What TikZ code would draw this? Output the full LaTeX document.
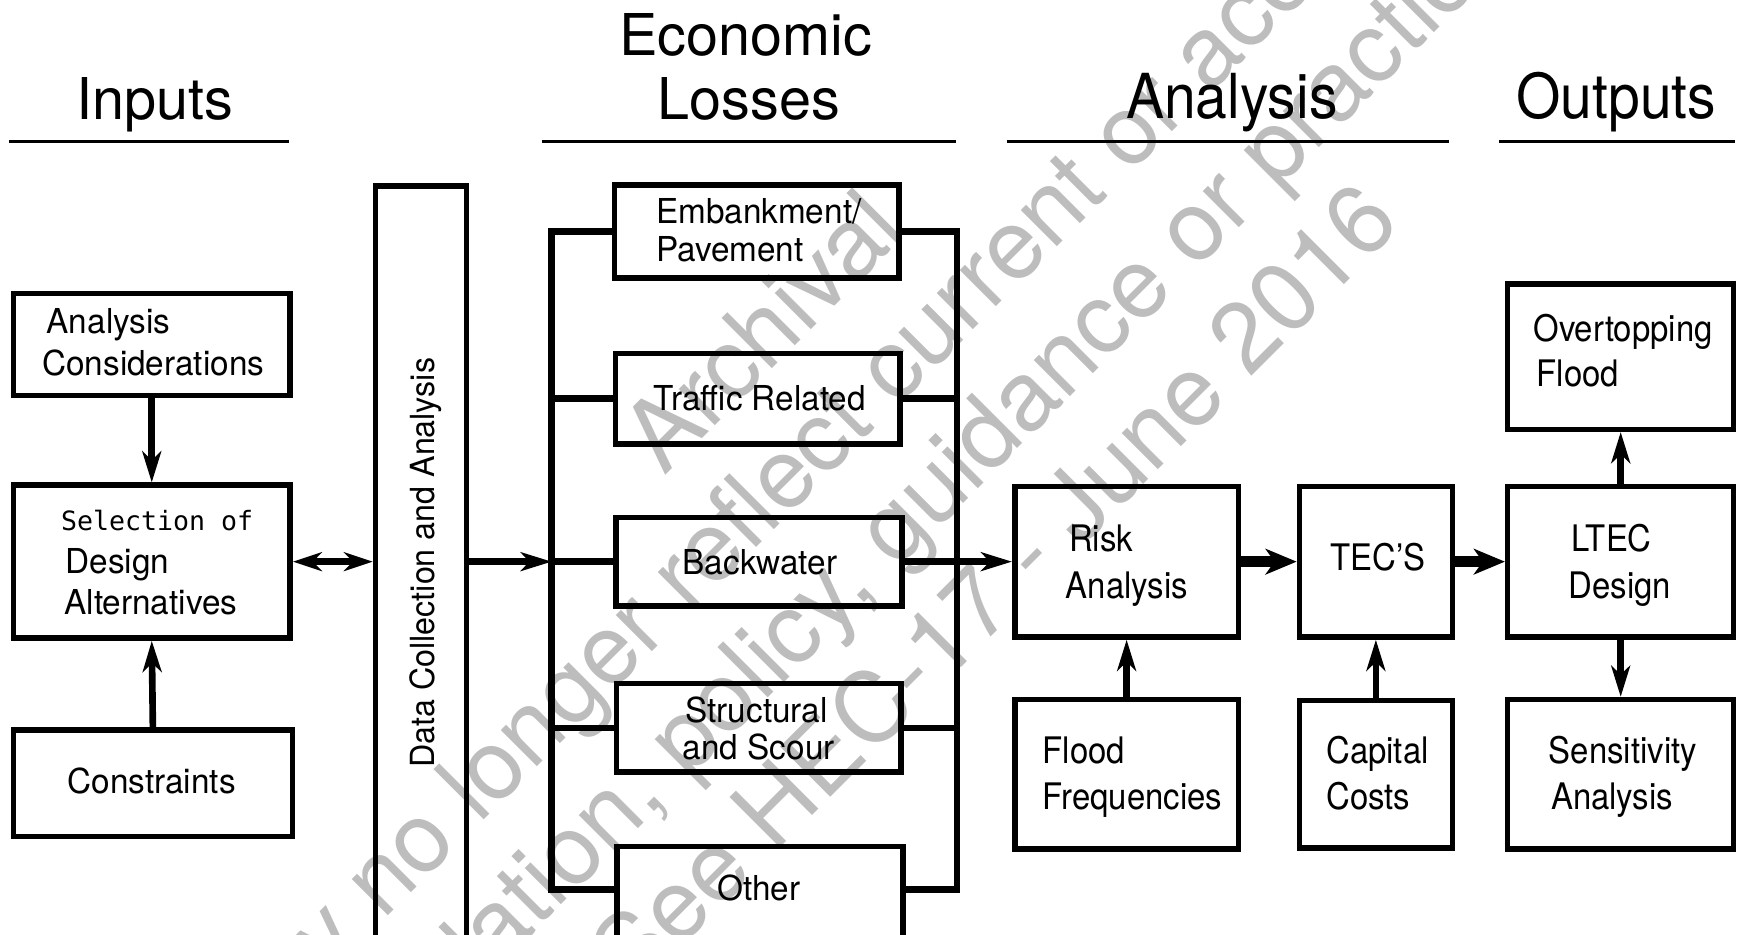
\documentclass[tikz,border=0pt]{standalone}
\usepackage{fontspec}
\setmainfont{TeX Gyre Heros}
\newfontfamily\fHead{TeX Gyre Heros}
\newfontfamily\fHeadC[FakeStretch=0.92]{TeX Gyre Heros}
\newfontfamily\fBoxL[FakeStretch=0.97]{TeX Gyre Heros}
\newfontfamily\fBoxR[FakeStretch=0.9]{TeX Gyre Heros}
\newfontfamily\fMono{DejaVu Sans Mono}
\newfontfamily\fMark{TeX Gyre Heros}
\usetikzlibrary{arrows.meta}
\definecolor{wmgray}{gray}{0.74}
\tikzset{
  box/.style={draw, line width=5pt, inner sep=0pt},
  hd/.style={font=\fHead\fontsize{52}{58}\selectfont, inner sep=0pt, anchor=base},
  hdc/.style={font=\fHeadC\fontsize{56}{62}\selectfont, inner sep=0pt, anchor=base},
  rule/.style={line width=3pt},
  tl/.style={font=\fBoxL\fontsize{31}{37}\selectfont, inner sep=0pt, anchor=base west},
  tlc/.style={font=\fBoxL\fontsize{31}{37}\selectfont, inner sep=0pt, anchor=base},
  tr/.style={font=\fBoxR\fontsize{33}{39}\selectfont, inner sep=0pt, anchor=base west},
  tm/.style={font=\fMono\fontsize{24}{28}\selectfont, inner sep=0pt, anchor=base west},
  wm/.style={font=\fMark\fontsize{88}{104}\selectfont, text=wmgray, inner sep=0pt, anchor=base, rotate=45},
  arr/.style={line width=6pt, -{Stealth[length=28pt, width=17pt, inset=8pt]}},
  arrd/.style={line width=6pt, {Stealth[length=26pt, width=17pt, inset=8pt]}-{Stealth[length=26pt, width=17pt, inset=8pt]}},
  arrt/.style={line width=10pt, -{Stealth[length=28pt, width=23pt, inset=8pt]}},
  bus/.style={line width=6pt, line join=miter, line cap=rect},
}
\begin{document}
\begin{tikzpicture}[x=1pt, y=-1pt]
\useasboundingbox (0,0) rectangle (1568,844);
\clip (0,0) rectangle (1568,844);
\fill[white] (0,0) rectangle (1568,844);

% watermark
\node[wm] (wm1) at (710,320) {Archival};
\node[wm] (wm2) at (778,399) {may no longer reflect current or accepted};
\node[wm] (wm3) at (850,474) {regulation, policy, guidance or practice.};
\node[wm] (wm4) at (919,551) {See HEC-17 - June 2016};

% headings
\node[hd] (hIn) at (140,108) {Inputs};
\node[hd] (hEc1) at (673,50) {Economic};
\node[hd] (hEc2) at (676,108) {Losses};
\node[hdc] (hAn) at (1112,107) {Analysis};
\node[hdc] (hOut) at (1459,107) {Outputs};
\coordinate (r1a) at (8,128);   \coordinate (r1b) at (261,128);
\coordinate (r2a) at (489,128); \coordinate (r2b) at (863,128);
\coordinate (r3a) at (909,128); \coordinate (r3b) at (1308,128);
\coordinate (r4a) at (1353,128);\coordinate (r4b) at (1566,128);
\draw[rule] (r1a) -- (r1b);
\draw[rule] (r2a) -- (r2b);
\draw[rule] (r3a) -- (r3b);
\draw[rule] (r4a) -- (r4b);

% inputs column
\node[box, minimum width=250pt, minimum height=92pt] (ac) at (137,311) {};
\node[box, minimum width=250pt, minimum height=138pt] (sel) at (137,507) {};
\node[box, minimum width=252pt, minimum height=96pt] (con) at (138,707) {};
\node[tl] (acT1) at (42,301) {Analysis};
\node[tl] (acT2) at (38,339) {Considerations};
\node[tm] (selT1) at (55,479) {Selection of};
\node[tl] (selT2) at (59,518) {Design};
\node[tl] (selT3) at (58,555) {Alternatives};
\node[tlc] (conT) at (137,716) {Constraints};
\draw[arr] (ac.south) -- (sel.north);
\draw[arr] (con.north) -- (sel.south);

% data collection
\node[box, minimum width=82pt, minimum height=710pt] (dc) at (380,523) {};
\node[font=\fBoxL\fontsize{30}{36}\selectfont, inner sep=0pt, anchor=base, rotate=90] (dcT) at (392,508) {Data Collection and Analysis};
\draw[arrd] (sel.east) -- (sel.east -| dc.west);

% economic losses
\coordinate (bL) at (498,0);
\coordinate (bR) at (864,0);
\coordinate (yO) at (0,803);
\node[box, minimum width=257pt, minimum height=84pt] (emb) at (683,209) {};
\node[box, minimum width=257pt, minimum height=82pt] (tra) at (684,360) {};
\node[box, minimum width=258pt, minimum height=80pt] (bw) at (685,507) {};
\node[box, minimum width=257pt, minimum height=80pt] (str) at (685,657) {};
\node[box, minimum width=258pt, minimum height=120pt] (oth) at (686,824) {};
\node[tl] (embT1) at (592,202) {Embankment/};
\node[tl] (embT2) at (592,236) {Pavement};
\node[tlc] (traT) at (686,371) {Traffic Related};
\node[tlc] (bwT) at (686,519) {Backwater};
\node[tlc] (strT1) at (683,652) {Structural};
\node[tlc] (strT2) at (685,686) {and Scour};
\node[tlc] (othT) at (685,813) {Other};

\draw[arr] (dc.east |- bw.west) -- (bw.west -| bL);
\draw[bus] (emb.west) -- (emb.west -| bL) -- (yO -| bL) -- (yO -| oth.west);
\draw[bus] (tra.west -| bL) -- (tra.west);
\draw[bus] (bw.west -| bL) -- (bw.west);
\draw[bus] (str.west -| bL) -- (str.west);
\draw[bus] (emb.east) -- (emb.east -| bR) -- (yO -| bR) -- (yO -| oth.east);
\draw[bus] (tra.east) -- (tra.east -| bR);
\draw[bus] (str.east) -- (str.east -| bR);

% analysis
\node[box, minimum width=202pt, minimum height=136pt] (risk) at (1017,507) {};
\node[box, minimum width=202pt, minimum height=135pt] (ff) at (1017,699) {};
\node[box, minimum width=138pt, minimum height=136pt] (tec) at (1242,507) {};
\node[box, minimum width=138pt, minimum height=133pt] (cap) at (1242,699) {};
\node[tr] (riskT1) at (965,498) {Risk};
\node[tr] (riskT2) at (962,540) {Analysis};
\node[tr] (ffT1) at (941,689) {Flood};
\node[tr] (ffT2) at (941,731) {Frequencies};
\node[tr] (tecT) at (1201,515) {TEC’S};
\node[tr] (capT1) at (1197,689) {Capital};
\node[tr] (capT2) at (1197,731) {Costs};

% outputs
\node[box, minimum width=204pt, minimum height=136pt] (ltec) at (1463,507) {};
\node[box, minimum width=204pt, minimum height=131pt] (ovt) at (1463,322) {};
\node[box, minimum width=204pt, minimum height=135pt] (sens) at (1463,699) {};
\node[tr] (ltecT1) at (1418,498) {LTEC};
\node[tr] (ltecT2) at (1416,540) {Design};
\node[tr] (ovtT1) at (1384,308) {Overtopping};
\node[tr] (ovtT2) at (1387,349) {Flood};
\node[tr] (sensT1) at (1398,689) {Sensitivity};
\node[tr] (sensT2) at (1400,731) {Analysis};

% connectors
\draw[arr] (bw.east) -- (bw.east -| risk.west);
\draw[arrt] (risk.east) -- (tec.west);
\draw[arrt] (tec.east) -- (ltec.west);
\draw[arr] (ff.north) -- (risk.south);
\draw[arr] (cap.north) -- (tec.south);
\draw[arr] (ltec.north) -- (ovt.south);
\draw[arr] (ltec.south) -- (sens.north);
\end{tikzpicture}
\end{document}
